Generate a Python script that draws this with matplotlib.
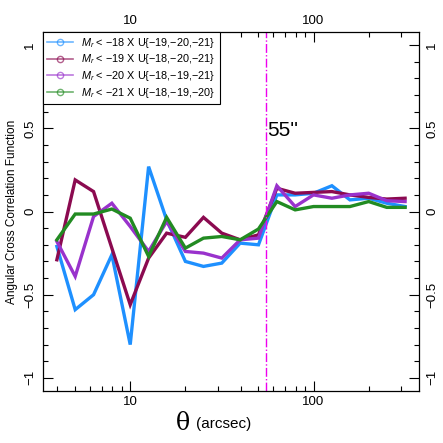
import matplotlib
matplotlib.use("Agg")
import matplotlib.pyplot as plt
from matplotlib.ticker import FixedLocator, NullFormatter
from matplotlib.lines import Line2D

plt.rcParams['font.family'] = ['Liberation Sans', 'DejaVu Sans']
plt.rcParams['mathtext.fontset'] = 'custom'
plt.rcParams['mathtext.it'] = 'Liberation Sans:italic'
plt.rcParams['mathtext.rm'] = 'Liberation Sans'

# Data (theta bins in arcsec, cross correlation per magnitude cut)
theta = [3.98, 5.01, 6.31, 7.94, 10.0, 12.6, 15.8, 20.0, 25.1, 31.6,
         39.8, 50.1, 63.1, 79.4, 100.0, 126.0, 158.0, 200.0, 251.0, 316.0]
w_18 = [-0.21, -0.59, -0.50, -0.26, -0.80, 0.27, -0.05, -0.30, -0.33, -0.31,
        -0.19, -0.20, 0.10, 0.10, 0.11, 0.155, 0.07, 0.08, 0.05, 0.03]
w_19 = [-0.29, 0.19, 0.12, -0.22, -0.56, -0.28, -0.13, -0.155, -0.035, -0.13,
        -0.17, -0.14, 0.14, 0.11, 0.115, 0.12, 0.10, 0.085, 0.075, 0.08]
w_20 = [-0.18, -0.39, -0.03, 0.05, -0.09, -0.24, -0.06, -0.24, -0.25, -0.28,
        -0.17, -0.16, 0.155, 0.03, 0.10, 0.08, 0.10, 0.11, 0.065, 0.06]
w_21 = [-0.17, -0.015, -0.015, 0.015, -0.04, -0.27, -0.035, -0.22, -0.16, -0.15,
        -0.17, -0.105, 0.06, 0.01, 0.03, 0.03, 0.03, 0.06, 0.025, 0.025]
labels = [r'$M_r$ < −18 X U{−19,−20,−21}',
          r'$M_r$ < −19 X U{−18,−20,−21}',
          r'$M_r$ < −20 X U{−18,−19,−21}',
          r'$M_r$ < −21 X U{−18,−19,−20}']
colors = ['#1e90ff', '#8b0a50', '#9932cc', '#228b22']
theta_cut = 55

fig = plt.figure(figsize=(4.43, 4.43), dpi=100)
ax = fig.add_axes([0.097, 0.117, 0.849, 0.811])

for ys, c in zip([w_18, w_19, w_20, w_21], colors):
    ax.plot(theta, ys, color=c, lw=2.4, solid_joinstyle='miter')

ax.axvline(theta_cut, color='#ee00ee', lw=1.0, ls='-.')
ax.text(theta_cut * 1.02, 0.43, '55\'\'', fontsize=15, ha='left', va='bottom')

ax.set_xscale('log')
ax.set_xlim(10 ** 0.524, 10 ** 2.576)
ax.set_ylim(-1.08, 1.08)

# R-style axes: inward ticks on all sides
ax.xaxis.set_major_locator(FixedLocator([10, 100]))
minors = [m * 10 ** e for e in range(0, 3) for m in range(2, 10)]
ax.xaxis.set_minor_locator(FixedLocator(minors))
ax.xaxis.set_minor_formatter(NullFormatter())
ax.set_xticklabels(['10', '100'])
ax.yaxis.set_major_locator(FixedLocator([-1, -0.5, 0, 0.5, 1]))
ax.yaxis.set_minor_locator(FixedLocator([i / 10 for i in range(-10, 11)]))
ax.set_yticklabels(['−1', '−0.5', '0', '0.5', '1'])
ax.tick_params(which='both', direction='in', top=True, right=True,
               labeltop=True, labelright=True, labelsize=9.5, width=0.8)
ax.tick_params(which='major', length=7)
ax.tick_params(which='minor', length=3.5)
for lab in ax.get_yticklabels():
    lab.set_rotation(90)
    lab.set_va('center')
ax.tick_params(axis='y', pad=5)
for sp in ax.spines.values():
    sp.set_linewidth(0.9)

ax.set_ylabel('Angular Cross Correlation Function', fontsize=8.5, labelpad=4)
fig.text(0.43, 0.045, 'θ', fontsize=17, ha='right', va='center',
         family='DejaVu Serif')
fig.text(0.443, 0.043, '(arcsec)', fontsize=11, ha='left', va='center')

handles = [Line2D([], [], color=c, lw=1.2, marker='o', markersize=4.5,
                  markerfacecolor='none', alpha=0.65) for c in colors]
leg = ax.legend(handles, labels, loc='upper left', fontsize=7.8,
                frameon=True, fancybox=False, framealpha=1,
                edgecolor='black', borderaxespad=0, handlelength=2.4,
                handletextpad=0.8, labelspacing=0.25, borderpad=0.35)
leg.get_frame().set_linewidth(0.8)

fig.savefig('out.png', dpi=100)
